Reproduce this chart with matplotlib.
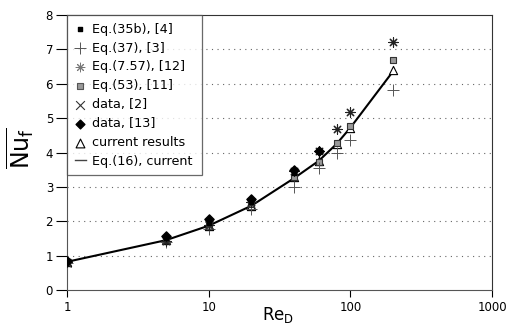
import numpy as np
import matplotlib.pyplot as plt
from matplotlib.ticker import FixedLocator, FixedFormatter, NullLocator

plt.rcParams['font.family'] = ['DejaVu Sans']
plt.rcParams['mathtext.fontset'] = 'dejavusans'

# ==============================
# dados
# ==============================
re_all = [1, 5, 10, 20, 40, 60, 80, 100, 200]
eq16_current = [0.82, 1.45, 1.87, 2.45, 3.25, 3.76, 4.25, 4.72, 6.36]

re_eq35b = [1, 5, 10, 20, 40]
eq35b = [0.83, 1.50, 1.95, 2.55, 3.40]

eq37 = [0.80, 1.40, 1.78, 2.35, 3.00, 3.55, 3.98, 4.36, 5.81]
eq757 = [0.82, 1.42, 1.88, 2.55, 3.45, 4.05, 4.68, 5.17, 7.22]
eq53 = [0.82, 1.45, 1.85, 2.50, 3.30, 3.72, 4.27, 4.77, 6.69]

re_data2 = [1, 5, 10, 20]
data2 = [0.80, 1.45, 1.90, 2.50]

re_data13 = [1, 5, 10, 20, 40, 60]
data13 = [0.85, 1.57, 2.07, 2.66, 3.49, 4.04]

re_current = [1, 5, 10, 20, 40, 60, 80, 100, 200]
current = [0.82, 1.45, 1.87, 2.45, 3.30, 3.76, 4.25, 4.72, 6.40]

x_ticks = [1, 10, 100, 1000]
y_ticks = [0, 1, 2, 3, 4, 5, 6, 7, 8]

# ==============================
# figura
# ==============================
W, H = 509, 326
fig = plt.figure(figsize=(W / 100, H / 100), dpi=100)
ax = fig.add_axes([67 / W, 1 - 290 / H, (492 - 67) / W, (290 - 15) / H])

ax.set_xscale('log')
ax.set_xlim(1, 1000)
ax.set_ylim(0, 8)

# grade horizontal pontilhada
for v in y_ticks[1:-1]:
    ax.axhline(v, color='#666666', lw=0.8, ls=(0, (1, 4)), zorder=0)

ax.plot(re_all, eq16_current, color='black', lw=1.5, zorder=2)

ax.scatter(re_current, current, marker='^', s=35, facecolors='white',
           edgecolors='black', linewidths=0.8, zorder=3)
ax.scatter(re_all, eq53, marker='s', s=18, facecolors='#999999',
           edgecolors='#333333', linewidths=0.8, zorder=4)
ax.scatter(re_all, eq37, marker='+', s=70, color='#555555',
           linewidths=0.7, zorder=4)
ax.scatter(re_all, eq757, marker=(8, 2, 0), s=45, color='#222222',
           linewidths=0.8, zorder=5)
ax.scatter(re_data2, data2, marker='x', s=35, color='#333333',
           linewidths=0.8, zorder=5)
ax.scatter(re_data13, data13, marker='D', s=22, color='black', zorder=6)
ax.scatter(re_eq35b, eq35b, marker='s', s=8, color='black', zorder=7)

# legenda (proxies)
h = [
    ax.scatter([], [], marker='s', s=8, color='black'),
    ax.scatter([], [], marker='+', s=70, color='#555555', linewidths=0.7),
    ax.scatter([], [], marker=(8, 2, 0), s=40, color='#777777', linewidths=0.7),
    ax.scatter([], [], marker='s', s=18, facecolors='#999999',
               edgecolors='#555555', linewidths=0.8),
    ax.scatter([], [], marker='x', s=40, color='#333333', linewidths=0.8),
    ax.scatter([], [], marker='D', s=20, color='black'),
    ax.scatter([], [], marker='^', s=40, facecolors='white',
               edgecolors='black', linewidths=0.8),
    ax.plot([], [], color='#444444', lw=1.0)[0],
]
labels = ['Eq.(35b), [4]', 'Eq.(37), [3]', 'Eq.(7.57), [12]', 'Eq.(53), [11]',
          'data, [2]', 'data, [13]', 'current results', 'Eq.(16), current']
leg = ax.legend(h, labels, loc='upper left', mode='expand',
                bbox_to_anchor=(0, 0, 135 / 425, 1), borderaxespad=0,
                fontsize=9.2, frameon=True, fancybox=False,
                edgecolor='#444444', handlelength=0.9, handletextpad=0.45,
                labelspacing=0.46, borderpad=0.6, scatterpoints=1)
leg.get_frame().set_linewidth(0.9)
leg.set_zorder(10)

# eixos
ax.xaxis.set_major_locator(FixedLocator(x_ticks))
ax.xaxis.set_major_formatter(FixedFormatter([str(t) for t in x_ticks]))
ax.xaxis.set_minor_locator(NullLocator())
ax.set_yticks(y_ticks)
ax.tick_params(axis='both', direction='out', width=0.8,
               labelsize=8.5, colors='black')
ax.tick_params(axis='y', length=8, pad=2)
ax.tick_params(axis='x', length=5, pad=3)
for s in ['left', 'bottom']:
    ax.spines[s].set_color('#555555')
for s in ['top', 'right']:
    ax.spines[s].set_color('#333333')

# rótulos dos eixos
fig.text(262 / W, 1 - 320 / H, r'$\mathrm{Re}_\mathrm{D}$', fontsize=12,
         ha='left', va='baseline')
fig.text(20 / W, 1 - 148 / H, r'$\overline{\mathrm{Nu}_\mathrm{f}}$',
         fontsize=17, rotation=90, ha='center', va='center')

fig.savefig('out.png', dpi=100)
